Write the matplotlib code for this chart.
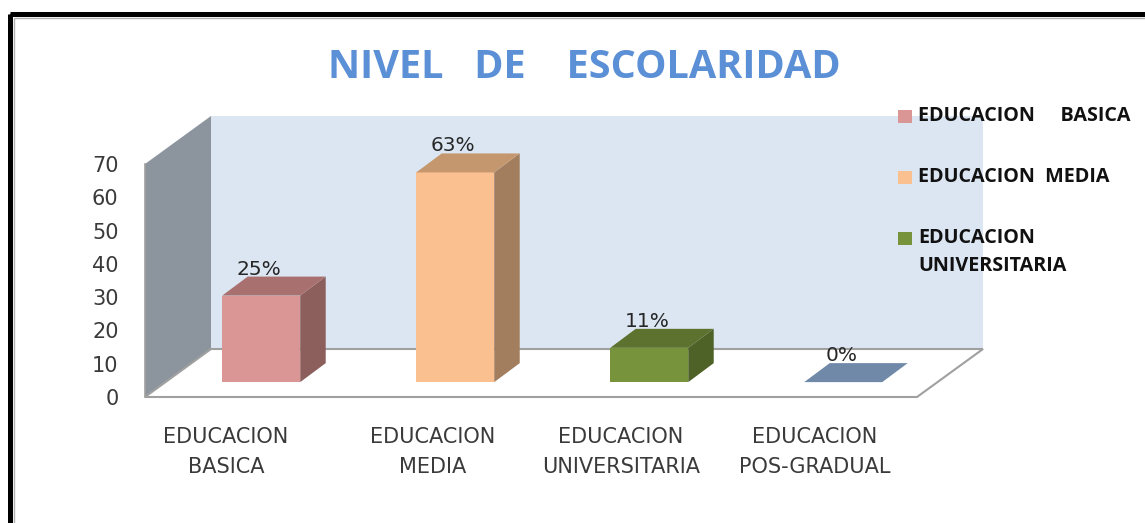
import matplotlib
matplotlib.use("Agg")
import matplotlib.pyplot as plt
from matplotlib.patches import Polygon, Rectangle

W, H = 1145, 523
plt.rcParams["font.family"] = "DejaVu Sans"

title = "NIVEL   DE    ESCOLARIDAD"
categories = ["EDUCACION\nBASICA", "EDUCACION\nMEDIA", "EDUCACION\nUNIVERSITARIA", "EDUCACION\nPOS-GRADUAL"]
values = [26, 63, 10.3, 0]
value_labels = ["25%", "63%", "11%", "0%"]
y_ticks = [0, 10, 20, 30, 40, 50, 60, 70]
legend_labels = ["EDUCACION     BASICA", "EDUCACION  MEDIA", "EDUCACION\nUNIVERSITARIA"]

front = ["#DA9694", "#FAC090", "#77933C", "#7089A8"]
top = ["#A8716F", "#C4976F", "#5C722E", "#7089A8"]
side = ["#8C5F5D", "#A27D5E", "#4E6127", "#7089A8"]

fig = plt.figure(figsize=(W / 100, H / 100), dpi=100, facecolor="white")

# pixel-space overlay for the frame
bg = fig.add_axes([0, 0, 1, 1], zorder=0)
bg.set_xlim(0, W); bg.set_ylim(H, 0); bg.axis("off")
bg.add_patch(Rectangle((9.8, 14.3), W + 30, H + 30, fc="none", ec="black", lw=3.6))
bg.add_patch(Rectangle((14, 18), W + 30, H + 30, fc="none", ec="#B0B0B0", lw=1.0))

# chart axes: front plane of the 3-D box
left, right, base, upper = 145, 917, 397, 164
ax = fig.add_axes([left / W, (H - base) / H, (right - left) / W, (base - upper) / H], zorder=1)
ax.set_xlim(0, len(categories))
ax.set_ylim(0, 70)
ax.patch.set_visible(False)
for s in ax.spines.values():
    s.set_visible(False)
ax.set_yticks(y_ticks)
ax.set_xticks([])
ax.tick_params(axis="y", length=0, pad=19, labelsize=15, labelcolor="#3A3A3A")

# depth of the box, in data units
px_x = len(categories) / (right - left)
px_y = 70 / (base - upper)
DX, DY = 66 * px_x, 48 * px_y
n = len(categories)

def poly(pts, fc, ec="none", lw=0, z=1):
    ax.add_patch(Polygon(pts, closed=True, fc=fc, ec=ec, lw=lw, zorder=z, clip_on=False))

poly([(DX, DY), (n + DX, DY), (n + DX, 70 + DY), (DX, 70 + DY)], "#DCE6F2", z=1)
poly([(0, 0), (DX, DY), (DX, 70 + DY), (0, 70)], "#8C959E", z=2)
poly([(0, 0), (n, 0), (n + DX, DY), (DX, DY)], "white", ec="#A0A0A0", lw=1.5, z=2)
ax.plot([0, 0], [0, 70], color="#A0A0A0", lw=1.2, zorder=3, clip_on=False)

# bars
bw = 78 * px_x
bdx, bdy = 25.5 * px_x, 19 * px_y
ox, oy = 0.30 * DX, 0.31 * DY
pitch = 194 / 193
for i, v in enumerate(values):
    x0 = (i + 0.5) * pitch - bw / 2 + ox - 0.003
    x1 = x0 + bw
    y0 = oy
    y1 = oy + v
    if v > 0:
        poly([(x1, y0), (x1 + bdx, y0 + bdy), (x1 + bdx, y1 + bdy), (x1, y1)], side[i], z=4)
        poly([(x0, y0), (x1, y0), (x1, y1), (x0, y1)], front[i], z=4)
    poly([(x0, y1), (x1, y1), (x1 + bdx, y1 + bdy), (x0 + bdx, y1 + bdy)], top[i], z=4)
    ax.text(x0 + bw * 0.5 - 2 * px_x, y1 + 0.42 * bdy + 2.7, value_labels[i], ha="center", va="bottom",
            fontsize=14.5, color="#262626", zorder=6, clip_on=False)

# overlay text in pixel space
fg = fig.add_axes([0, 0, 1, 1], zorder=2)
fg.set_xlim(0, W); fg.set_ylim(H, 0); fg.axis("off")
label_x = [226, 433, 621, 815]
for x, c in zip(label_x, categories):
    fg.text(x, 452, c, ha="center", va="center", fontsize=15, color="#3A3A3A", linespacing=1.62)
fg.text(584, 67, title, ha="center", va="center", fontsize=28.5, fontweight="bold",
        color="#5B8FD6", family="Open Sans")

legend_y = [116.5, 177.5, 238.5]
legend_text_y = [116, 177, 252]
for y, ty, lab, col in zip(legend_y, legend_text_y, legend_labels, front):
    fg.add_patch(Rectangle((898, y - 6.5), 14, 13, fc=col, ec="none"))
    fg.text(918, ty, lab, ha="left", va="center", fontsize=14.2, fontweight="bold",
            color="#111111", linespacing=1.58, family="Open Sans")

fig.savefig("out.png", dpi=100)
